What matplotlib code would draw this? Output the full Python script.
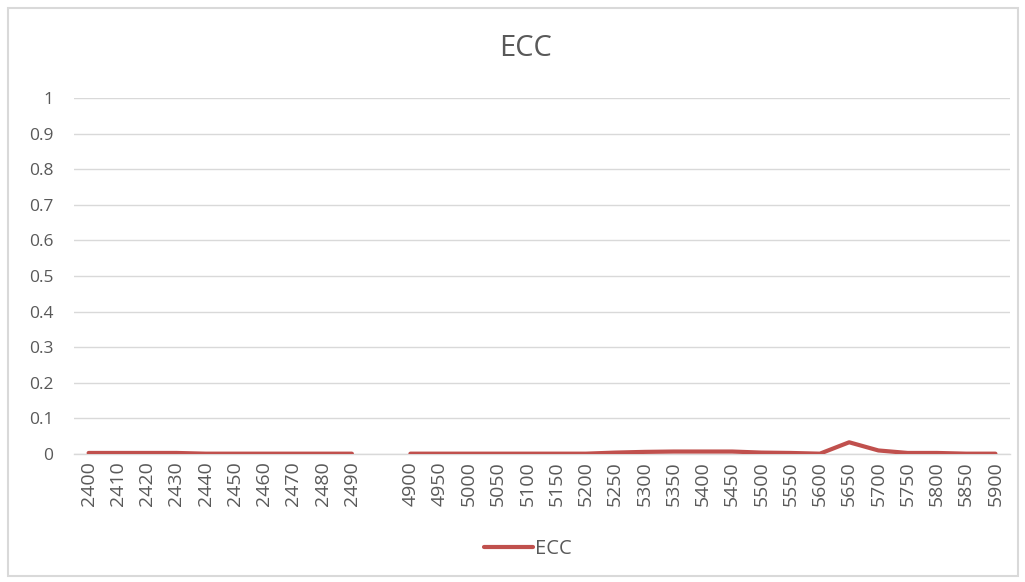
import numpy as np
import matplotlib
matplotlib.use('Agg')
import matplotlib.pyplot as plt
from matplotlib.patches import Rectangle

plt.rcParams['font.family'] = ['Open Sans', 'DejaVu Sans']

# category axis: 2.4 GHz channels, one empty slot, then 5 GHz channels
LOW_BAND = [2400, 2410, 2420, 2430, 2440, 2450, 2460, 2470, 2480, 2490]
HIGH_BAND = [4900, 4950, 5000, 5050, 5100, 5150, 5200, 5250, 5300, 5350, 5400,
             5450, 5500, 5550, 5600, 5650, 5700, 5750, 5800, 5850, 5900]
ECC_LOW = [0.003, 0.003, 0.003, 0.003, 0.001, 0.001, 0.001, 0.001, 0.001, 0.001]
ECC_HIGH = [0.001, 0.001, 0.001, 0.001, 0.001, 0.001, 0.001, 0.004, 0.006, 0.007,
            0.007, 0.007, 0.004, 0.003, 0.001, 0.033, 0.010, 0.003, 0.003, 0.001,
            0.001]

labels = [str(f) for f in LOW_BAND] + [''] + [str(f) for f in HIGH_BAND]
values = ECC_LOW + [np.nan] + ECC_HIGH
xpos = np.arange(len(labels))

LINE_COLOR = '#C0504D'
GRID_COLOR = '#D9D9D9'
TEXT_COLOR = '#595959'

fig = plt.figure(figsize=(10.25, 5.82), dpi=100)
ax = fig.add_axes([0.0722, 0.2199, 0.9132, 0.6117])

ax.plot(xpos, values, color=LINE_COLOR, linewidth=3, solid_capstyle='round',
        label='ECC', zorder=3)

ax.set_xlim(-0.5, len(labels) - 0.5)
ax.set_ylim(0, 1)
ax.set_yticks(np.arange(0, 1.01, 0.1))
ax.set_yticklabels(['0', '0.1', '0.2', '0.3', '0.4', '0.5', '0.6', '0.7',
                    '0.8', '0.9', '1'])
ax.set_xticks(xpos)
ax.set_xticklabels(labels, rotation=90)
ax.tick_params(axis='y', length=0, pad=15, labelsize=12.5, labelcolor=TEXT_COLOR)
ax.tick_params(axis='x', length=0, pad=5, labelsize=14, labelcolor=TEXT_COLOR)

ax.grid(True, axis='y', color=GRID_COLOR, linewidth=1)
ax.set_axisbelow(True)
for side in ['top', 'right', 'left']:
    ax.spines[side].set_visible(False)
ax.spines['bottom'].set_color(GRID_COLOR)
ax.spines['bottom'].set_linewidth(1)

fig.text(0.513, 0.917, 'ECC', ha='center', va='center', fontsize=21,
         color=TEXT_COLOR)

leg = fig.legend(loc='center', bbox_to_anchor=(0.515, 0.057), frameon=False,
                 fontsize=14.5, handlelength=2.4, handletextpad=0.1)
for t in leg.get_texts():
    t.set_color(TEXT_COLOR)

# chart-area border
fig.patches.append(Rectangle((0.008, 0.01), 0.985, 0.977, transform=fig.transFigure,
                             fill=False, edgecolor='#D9D9D9', linewidth=1.5))

fig.savefig('out.png', dpi=100)
plt.close(fig)
